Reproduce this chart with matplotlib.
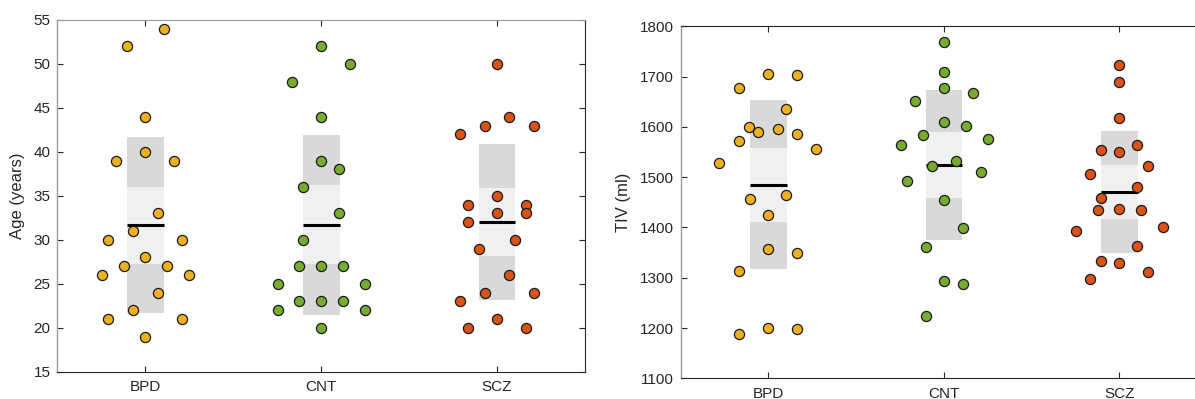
import numpy as np
import matplotlib.pyplot as plt

# ── Data ──────────────────────────────────────────────────────────────────────
groups = ["BPD", "CNT", "SCZ"]

age_bpd = [54, 52, 44, 40, 39, 39, 33, 31, 30, 30, 28, 27, 27, 26, 26, 24, 22, 21, 21, 19]
age_cnt = [52, 50, 48, 44, 39, 38, 36, 33, 30, 27, 27, 27, 25, 25, 23, 23, 23, 22, 22, 20]
age_scz = [50, 44, 43, 43, 42, 35, 34, 34, 33, 33, 32, 30, 29, 26, 24, 24, 23, 21, 20, 20]

tiv_bpd = [1706, 1704, 1677, 1636, 1600, 1589, 1595, 1586, 1571, 1555,
           1529, 1465, 1456, 1424, 1358, 1349, 1313, 1200, 1198, 1188]
tiv_cnt = [1769, 1710, 1677, 1667, 1652, 1610, 1602, 1583, 1575, 1563,
           1532, 1522, 1510, 1492, 1455, 1398, 1362, 1293, 1288, 1224]
tiv_scz = [1724, 1689, 1617, 1564, 1554, 1550, 1522, 1507, 1481, 1458,
           1437, 1435, 1434, 1400, 1392, 1364, 1334, 1329, 1312, 1297]

# horizontal jitter of each subject around its group position
age_bpd_dx = [0.104, -0.104, 0, 0, -0.165, 0.165, 0.070, -0.070, -0.210, 0.210,
              0, -0.123, 0.123, -0.248, 0.248, 0.070, -0.070, -0.210, 0.210, 0]
age_cnt_dx = [0, 0.166, -0.166, 0, 0, 0.103, -0.103, 0.103, -0.103, -0.124,
              0, 0.122, -0.247, 0.247, -0.124, 0, 0.122, -0.247, 0.247, 0]
age_scz_dx = [0, 0.070, -0.070, 0.210, -0.210, 0, -0.165, 0.165, 0, 0.165,
              -0.165, 0.102, -0.104, 0.070, -0.070, 0.210, -0.210, 0, -0.165, 0.165]

tiv_bpd_dx = [0, 0.165, -0.168, 0.101, -0.108, -0.057, 0.054, 0.165, -0.168, 0.274,
              -0.279, 0.101, -0.103, 0, 0, 0.165, -0.168, 0, 0.165, -0.168]
tiv_cnt_dx = [0, 0, 0, 0.167, -0.165, 0, 0.125, -0.121, 0.249, -0.245,
              0.072, -0.068, 0.213, -0.211, 0, 0.107, -0.103, 0, 0.107, -0.103]
tiv_scz_dx = [0, 0, 0, 0.103, -0.104, 0, 0.165, -0.167, 0.103, -0.104,
              0, 0.124, -0.123, 0.247, -0.245, 0.103, -0.104, 0, 0.165, -0.167]

# ── Style ─────────────────────────────────────────────────────────────────────
GROUP_COLORS = ["#EDB120", "#77AC30", "#D95319"]
SD_COLOR = "#D9D9D9"
CI_COLOR = "#F0F0F0"
TEXT = "#262626"
BOX_HALF = 0.104

plt.rcParams['font.family'] = ['Liberation Sans', 'DejaVu Sans']
plt.rcParams['font.size'] = 11


def not_box_plot(ax, values, offsets, pos, color):
    """Mean line, 95% CI (light) and SD (dark) patches, then raw points."""
    v = np.asarray(values, dtype=float)
    mu = v.mean()
    sd = v.std(ddof=1)
    ci = 1.96 * sd / np.sqrt(len(v))
    ax.fill_between([pos - BOX_HALF, pos + BOX_HALF], mu - sd, mu + sd,
                    color=SD_COLOR, lw=0, zorder=1)
    ax.fill_between([pos - BOX_HALF, pos + BOX_HALF], mu - ci, mu + ci,
                    color=CI_COLOR, lw=0, zorder=2)
    ax.plot([pos - BOX_HALF, pos + BOX_HALF], [mu, mu], color='black',
            lw=2.2, solid_capstyle='butt', zorder=3)
    ax.plot(pos + np.asarray(offsets), v, 'o', ls='none', ms=7.3,
            mfc=color, mec='#1a1a1a', mew=0.9, zorder=4)


def style_axes(ax, ylim, yticks, ylabel, grey_top):
    ax.set_xlim(0.5, 3.5)
    ax.set_ylim(*ylim)
    ax.set_yticks(yticks)
    ax.set_xticks([1, 2, 3])
    ax.set_xticklabels(groups)
    ax.tick_params(direction='in', length=4.5, width=0.8, colors=TEXT,
                   top=True, right=True, labelsize=11)
    ax.tick_params(axis='y', pad=5)
    ax.tick_params(axis='x', pad=6)
    ax.set_ylabel(ylabel, color=TEXT, fontsize=12, labelpad=6)
    for side in ['right', 'bottom', 'top']:
        ax.spines[side].set_color(TEXT)
        ax.spines[side].set_linewidth(0.8)
    ax.spines['left'].set_color('#9a9a9a')
    ax.spines['left'].set_linewidth(1.0)
    if grey_top:
        ax.spines['top'].set_color('#9a9a9a')


fig = plt.figure(figsize=(11.95, 3.99), dpi=100)

ax1 = fig.add_axes([0.0481, 0.0684, 0.4414, 0.8815])
ax2 = fig.add_axes([0.5695, 0.0519, 0.4406, 0.8822])

for i, (vals, dx) in enumerate([(age_bpd, age_bpd_dx),
                                (age_cnt, age_cnt_dx),
                                (age_scz, age_scz_dx)]):
    not_box_plot(ax1, vals, dx, i + 1, GROUP_COLORS[i])

for i, (vals, dx) in enumerate([(tiv_bpd, tiv_bpd_dx),
                                (tiv_cnt, tiv_cnt_dx),
                                (tiv_scz, tiv_scz_dx)]):
    not_box_plot(ax2, vals, dx, i + 1, GROUP_COLORS[i])

style_axes(ax1, (15, 55), np.arange(15, 56, 5), "Age (years)", grey_top=True)
style_axes(ax2, (1100, 1800), np.arange(1100, 1801, 100), "TIV (ml)", grey_top=False)

fig.savefig("out.png", dpi=100, facecolor='white')
